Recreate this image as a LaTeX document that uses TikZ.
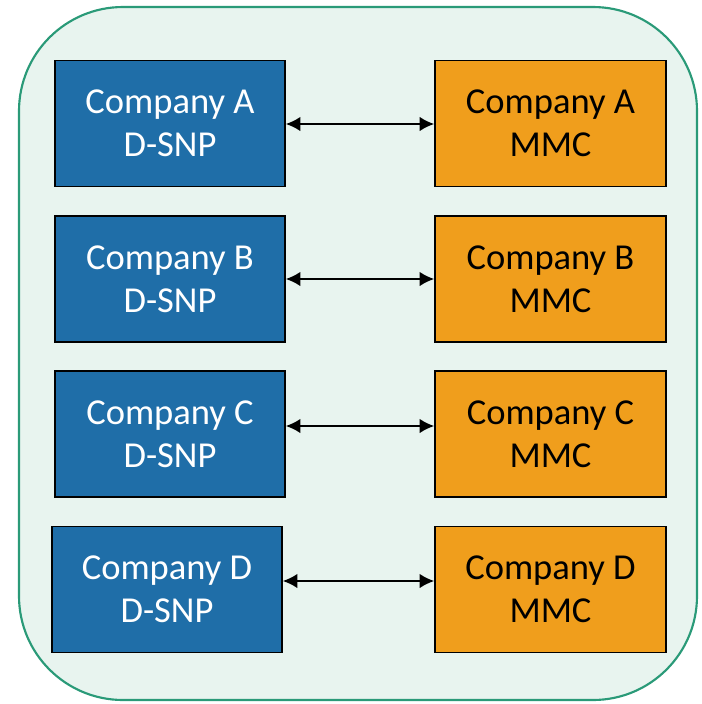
\documentclass[tikz,border=0pt]{standalone}
\usepackage{fontspec}
\setmainfont{Carlito}
\usepackage{tikz}

\definecolor{frameGreen}{HTML}{2A9A78}
\definecolor{paleGreen}{HTML}{E8F4EF}
\definecolor{snpBlue}{HTML}{1F6EA8}
\definecolor{mmcOrange}{HTML}{F09E1C}

\tikzset{
  snpbox/.style={draw=black, line width=1.2pt, fill=snpBlue, text=white, minimum width=172.5pt, minimum height=94.5pt, inner sep=0pt, align=center, font=\fontsize{27.4}{32}\selectfont},
  mmcbox/.style={draw=black, line width=1.2pt, fill=mmcOrange, text=black, minimum width=173.25pt, minimum height=94.5pt, inner sep=0pt, align=center, font=\fontsize{27.4}{32}\selectfont},
  link/.style={line width=1.4pt, {Latex[length=11pt,width=11pt]}-{Latex[length=11pt,width=11pt]}}
}
\usetikzlibrary{arrows.meta}

\begin{document}
\begin{tikzpicture}[x=0.75pt,y=0.75pt,yscale=-1,xscale=1]
%set diagram left start at 0, and has height of 704
\useasboundingbox (0,0) rectangle (702,704);

%Rounded Rect [id:frame]
\draw [draw=frameGreen, fill=paleGreen, line width=1.6pt, rounded corners=78pt] (19,7) rectangle (697,700);

%D-SNP boxes
\node [snpbox] (snpA) at (170,123.5) {Company A\\D-SNP};
\node [snpbox] (snpB) at (170,279) {Company B\\D-SNP};
\node [snpbox] (snpC) at (170,434) {Company C\\D-SNP};
\node [snpbox] (snpD) at (167,589.5) {Company D\\D-SNP};

%MMC boxes
\node [mmcbox] (mmcA) at (550.5,123.5) {Company A\\MMC};
\node [mmcbox] (mmcB) at (550.5,279) {Company B\\MMC};
\node [mmcbox] (mmcC) at (550.5,434) {Company C\\MMC};
\node [mmcbox] (mmcD) at (550.5,589.5) {Company D\\MMC};

%Straight Lines
\draw [link] (snpA.east |- 0,124) -- (mmcA.west |- 0,124) ;
\draw [link] (snpB.east |- 0,279) -- (mmcB.west |- 0,279) ;
\draw [link] (snpC.east |- 0,426) -- (mmcC.west |- 0,426) ;
\draw [link] (snpD.east |- 0,581) -- (mmcD.west |- 0,581) ;

\end{tikzpicture}
\end{document}
